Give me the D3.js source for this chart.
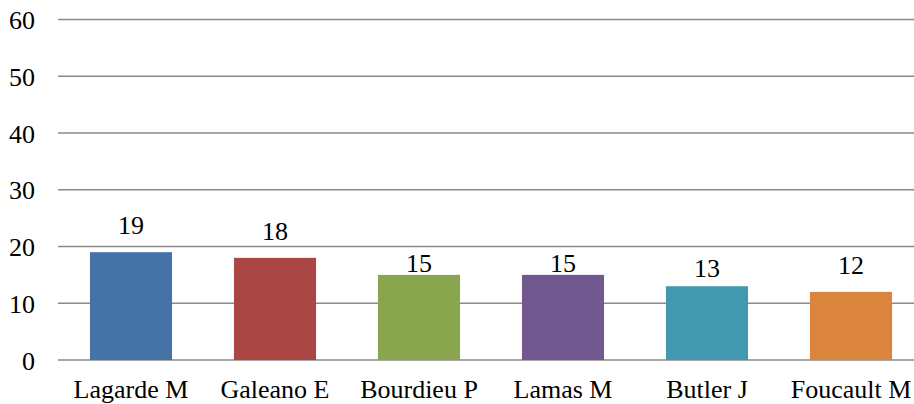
<!DOCTYPE html>
<html>
<head>
<meta charset="utf-8">
<script src="https://cdn.jsdelivr.net/npm/d3@7"></script>
<style>
  html, body { margin: 0; padding: 0; background: #fff; }
  svg { display: block; }
</style>
</head>
<body>
<svg id="chart" width="914" height="404"></svg>
<script>
// ---- data ----
const categories = ["Lagarde M", "Galeano E", "Bourdieu P", "Lamas M", "Butler J", "Foucault M"];
const values = [19, 18, 15, 15, 13, 12];
const yTicks = [0, 10, 20, 30, 40, 50, 60];
const colors = ["#4572A7", "#AA4643", "#89A54E", "#71588F", "#4198AF", "#DB843D"];

// ---- layout (label gaps above the bar top, px, as placed in the original) ----
const labelGap = [17.7, 18, 2.5, 2.5, 9.3, 18];
const FONT = "Liberation Serif";

const svg = d3.select("#chart");
const x = d3.scaleBand().domain(categories).range([59, 923]).paddingInner(0.43).paddingOuter(0.215);
const y = d3.scaleLinear().domain([0, 60]).range([360, 19.5]);

// gridlines
svg.append("g").selectAll("line").data(yTicks).join("line")
  .attr("x1", 58).attr("x2", 914)
  .attr("y1", d => y(d)).attr("y2", d => y(d))
  .attr("stroke", "#8a8a8a").attr("stroke-width", 1.6);

// y tick labels
svg.append("g").selectAll("text").data(yTicks).join("text")
  .attr("x", 35).attr("y", d => y(d) + 9.5)
  .attr("text-anchor", "end").attr("font-size", 26).attr("font-family", FONT).attr("fill", "#000")
  .text(d => d);

// bars
svg.append("g").selectAll("rect").data(values).join("rect")
  .attr("x", (d, i) => x(categories[i]))
  .attr("width", x.bandwidth())
  .attr("y", d => y(d))
  .attr("height", d => y(0) - y(d))
  .attr("fill", (d, i) => colors[i]);

// value labels
svg.append("g").selectAll("text").data(values).join("text")
  .attr("x", (d, i) => x(categories[i]) + x.bandwidth() / 2)
  .attr("y", (d, i) => y(d) - labelGap[i])
  .attr("text-anchor", "middle").attr("font-size", 26).attr("font-family", FONT).attr("fill", "#000")
  .text(d => d);

// category labels
svg.append("g").selectAll("text").data(categories).join("text")
  .attr("x", d => x(d) + x.bandwidth() / 2)
  .attr("y", 398)
  .attr("text-anchor", "middle").attr("font-size", 26).attr("font-family", FONT).attr("fill", "#000")
  .text(d => d);
</script>
</body>
</html>
